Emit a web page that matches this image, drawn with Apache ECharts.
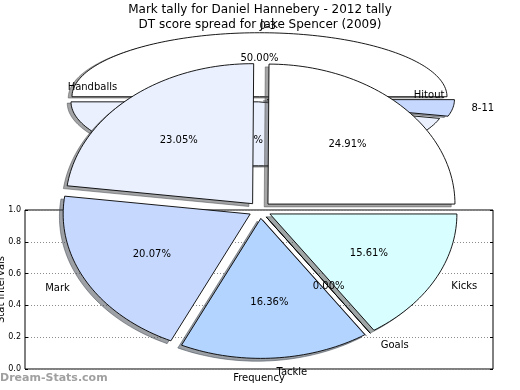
<!DOCTYPE html>
<html><head><meta charset="utf-8">
<script src="https://cdn.jsdelivr.net/npm/echarts@6/dist/echarts.min.js"></script>
<style>html,body{margin:0;padding:0;background:#fff}#c{width:520px;height:390px}</style>
</head><body><div id="c"></div>
<script>
// ---- data ----
const titleTop = 'Mark tally for Daniel Hannebery - 2012 tally';
const titleBottom = 'DT score spread for Jake Spencer (2009)';
const statLabels = ['Hitout', 'Handballs', 'Mark', 'Tackle', 'Goals', 'Kicks'];
const statPercents = [24.91, 23.05, 20.07, 16.36, 0.00, 15.61];
const scoreLabels = ['0-3', '4-7', '8-11'];
const scorePercents = [50.00, 45.83, 4.17];
const yTickValues = [0.0, 0.2, 0.4, 0.6, 0.8, 1.0];
const yAxisName = 'Stat Intervals';
const xAxisName = 'Frequency';
const watermark = 'Dream-Stats.com';

// ---- styles / layout ----
const palette = ['#ffffff', '#eaf0fe', '#c6d8fe', '#b3d4fe', '#e4e4ff', '#d9feff'];
const FONT = '"DejaVu Sans", sans-serif';
const FRONT = {cx: 260, cy: 210, rx: 187, ry: 140, explode: 0.06};
const BACK = {cx: 259.5, cy: 99.3, rx: 187.5, ry: 64, explode: 0.04};

function shadeColor(hex) {
  const n = parseInt(hex.slice(1), 16);
  const r = (n >> 16) & 255, g = (n >> 8) & 255, b = n & 255;
  return 'rgba(' + Math.round(r * 0.3) + ',' + Math.round(g * 0.3) + ',' + Math.round(b * 0.3) + ',0.5)';
}

function pieSeries(labels, values, geom, z) {
  const total = values.reduce((a, b) => a + b, 0);
  const cum = []; let acc = 0;
  values.forEach(v => { cum.push(acc); acc += v; });
  return {
    type: 'custom', coordinateSystem: 'none', z: z, silent: true, animation: false,
    data: values.map((v, i) => ({name: labels[i], value: [v]})),
    renderItem: function (params, api) {
      const i = params.dataIndex;
      const v = api.value(0);
      const a1 = 2 * Math.PI * cum[i] / total;
      const a2 = a1 + 2 * Math.PI * v / total;
      const am = (a1 + a2) / 2;
      const ox = geom.cx + geom.explode * geom.rx * Math.cos(am);
      const oy = geom.cy - geom.explode * geom.ry * Math.sin(am);
      const n = Math.max(2, Math.ceil((a2 - a1) / (Math.PI / 120)));
      function pts(dx, dy) {
        const p = [[ox + dx, oy + dy]];
        for (let k = 0; k <= n; k++) {
          const t = a1 + (a2 - a1) * k / n;
          p.push([ox + dx + geom.rx * Math.cos(t), oy + dy - geom.ry * Math.sin(t)]);
        }
        return p;
      }
      const col = palette[i % palette.length];
      const sh = shadeColor(col);
      const c = Math.cos(am), s = Math.sin(am);
      return {type: 'group', children: [
        {type: 'polygon', shape: {points: pts(-0.02 * geom.rx, 0.02 * geom.ry)},
         style: {fill: sh, stroke: sh, lineWidth: 1}, z2: 1},
        {type: 'polygon', shape: {points: pts(0, 0)},
         style: {fill: col, stroke: '#000', lineWidth: 0.9}, z2: 10},
        {type: 'text', x: ox + 1.1 * geom.rx * c, y: oy - 1.1 * geom.ry * s,
         style: {text: labels[i], fill: '#000', font: '10px ' + FONT,
                 align: c > 0 ? 'left' : 'right', verticalAlign: 'middle'}, z2: 20},
        {type: 'text', x: ox + 0.6 * geom.rx * c, y: oy - 0.6 * geom.ry * s,
         style: {text: (100 * v / total).toFixed(2) + '%', fill: '#000', font: '10px ' + FONT,
                 align: 'center', verticalAlign: 'middle'}, z2: 20}
      ]};
    }
  };
}

const chart = echarts.init(document.getElementById('c'), null, {renderer: 'canvas'});
const yMin = yTickValues[0], yMax = yTickValues[yTickValues.length - 1];
const yInt = yTickValues[1] - yTickValues[0];
const axisFont = {fontFamily: FONT, color: '#000'};

chart.setOption({
  animation: false,
  backgroundColor: '#fff',
  title: [
    {text: titleTop, left: 'center', top: 4, padding: 0,
     textStyle: {fontSize: 12, fontWeight: 'normal', color: '#000', fontFamily: FONT}},
    {text: titleBottom, left: 'center', top: 19, padding: 0,
     textStyle: {fontSize: 12, fontWeight: 'normal', color: '#000', fontFamily: FONT}}
  ],
  grid: {left: 25, top: 210, width: 468, height: 159, show: true, containLabel: false,
         outerBoundsMode: 'none',
         borderColor: '#000', borderWidth: 1, backgroundColor: 'transparent'},
  xAxis: {type: 'value', min: 0, max: 1, name: xAxisName, nameLocation: 'middle', nameGap: 4,
          nameMoveOverlap: false,
          nameTextStyle: Object.assign({fontSize: 10, verticalAlign: 'top'}, axisFont),
          axisLine: {show: false}, axisTick: {show: false}, axisLabel: {show: false},
          splitLine: {show: false}},
  yAxis: [
    {type: 'value', position: 'left', min: yMin, max: yMax, interval: yInt,
     name: yAxisName, nameLocation: 'middle', nameGap: 19, nameMoveOverlap: false,
     nameTextStyle: Object.assign({fontSize: 10}, axisFont),
     axisLine: {show: false},
     axisTick: {show: true, inside: true, length: 3, lineStyle: {color: '#000'}},
     axisLabel: Object.assign({fontSize: 8, margin: 4, formatter: v => v.toFixed(1)}, axisFont),
     splitLine: {show: true, lineStyle: {color: '#8c8c8c', width: 1, type: [1, 2]}}},
    {type: 'value', position: 'right', min: yMin, max: yMax, interval: yInt,
     axisLine: {show: false},
     axisTick: {show: true, inside: true, length: 3, lineStyle: {color: '#000'}},
     axisLabel: {show: false}, splitLine: {show: false}}
  ],
  graphic: [
    {type: 'text', left: 0, top: 373, z: 10,
     style: {text: watermark, fill: '#a0a0a0', font: 'bold 11px ' + FONT}}
  ],
  series: [
    {type: 'bar', data: [], xAxisIndex: 0, yAxisIndex: 0},
    pieSeries(scoreLabels, scorePercents, BACK, 2),
    pieSeries(statLabels, statPercents, FRONT, 3)
  ]
});
</script></body></html>
